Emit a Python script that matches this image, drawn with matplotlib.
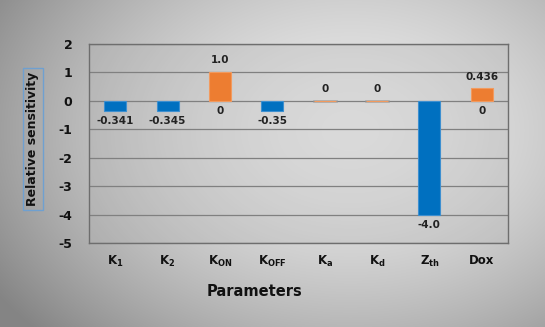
import numpy as np
import matplotlib
matplotlib.use('Agg')
from matplotlib import pyplot as plt

# data
params = [r'$K_1$', r'$K_2$', r'$K_{ON}$', r'$K_{OFF}$', r'$K_a$', r'$K_d$', r'$Z_{th}$', 'Dox']
neg_vals = [-0.341, -0.345, 0.0, -0.35, np.nan, np.nan, -4.0, 0.0]
pos_vals = [np.nan, np.nan, 1.0, np.nan, 0.0, 0.0, np.nan, 0.436]
neg_labels = ['-0.341', '-0.345', '0', '-0.35', '', '', '-4.0', '0']
pos_labels = ['', '', '1.0', '', '0', '0', '', '0.436']
yticks = [2, 1, 0, -1, -2, -3, -4, -5]

plt.rcParams['mathtext.default'] = 'bf'
plt.rcParams['font.family'] = 'DejaVu Sans'

fig = plt.figure(figsize=(5.45, 3.27), dpi=100)

# radial grey background
bg = fig.add_axes([0, 0, 1, 1], zorder=-10)
yy, xx = np.mgrid[0:327, 0:545]
r = np.sqrt(((xx - 350) / 340.0) ** 2 + ((yy - 130) / 240.0) ** 2)
shade = np.clip(0.91 - 0.27 * r ** 1.7, 0.52, 0.92)
bg.imshow(np.dstack([shade] * 3), aspect='auto', extent=[0, 1, 0, 1])
bg.axis('off')

ax = fig.add_axes([89 / 545, 1 - 243 / 327, 419 / 545, 199 / 327])
ax.patch.set_facecolor('#b0b0b0')
ax.patch.set_alpha(0.25)

x = np.arange(len(params))
ax.bar(x, neg_vals, width=0.42, color='#0070C0', edgecolor='#3d8fd0', linewidth=0.8, zorder=3)
ax.bar(x, pos_vals, width=0.42, color='#ED7D31', edgecolor='#f29a5e', linewidth=0.8, zorder=3)
# faint zero-height marks
for i, v in enumerate(pos_vals):
    if v == 0:
        ax.plot([i - 0.21, i + 0.21], [0, 0], color='#9a9a9a', lw=2, alpha=0.6, zorder=2)

for i in range(len(params)):
    if neg_labels[i]:
        v = neg_vals[i]
        ax.annotate(neg_labels[i], (i, v), xytext=(0, -4), textcoords='offset points',
                    ha='center', va='top', fontsize=7.5, fontweight='bold', color='#222222')
    if pos_labels[i]:
        v = pos_vals[i]
        ax.annotate(pos_labels[i], (i, v), xytext=(0, 5), textcoords='offset points',
                    ha='center', va='bottom', fontsize=7.5, fontweight='bold', color='#222222')

ax.set_xlim(-0.5, len(params) - 0.5)
ax.set_ylim(-5, 2)
ax.set_yticks(yticks)
ax.set_yticklabels([str(t) for t in yticks], fontsize=9, fontweight='bold')
ax.set_xticks(x)
ax.set_xticklabels(params, fontsize=8.5, fontweight='bold')
ax.tick_params(axis='both', length=0, colors='#111111')
ax.tick_params(axis='y', pad=12)
ax.tick_params(axis='x', pad=8)
ax.grid(axis='y', color='#808080', linewidth=0.9, zorder=0)
ax.set_axisbelow(True)
for s in ax.spines.values():
    s.set_color('#6e6e6e')
    s.set_linewidth(1.0)

fig.text(33 / 545, 1 - 139 / 327, 'Relative sensitivity', rotation=90, ha='center', va='center',
         fontsize=9, fontweight='bold', color='#111111',
         bbox=dict(boxstyle='square,pad=0.3', facecolor='none', edgecolor='#6fa0d0', linewidth=1))
fig.text(255 / 545, 1 - 292 / 327, 'Parameters', ha='center', va='center',
         fontsize=10.5, fontweight='bold', color='#111111')

fig.savefig('out.png', dpi=100)
